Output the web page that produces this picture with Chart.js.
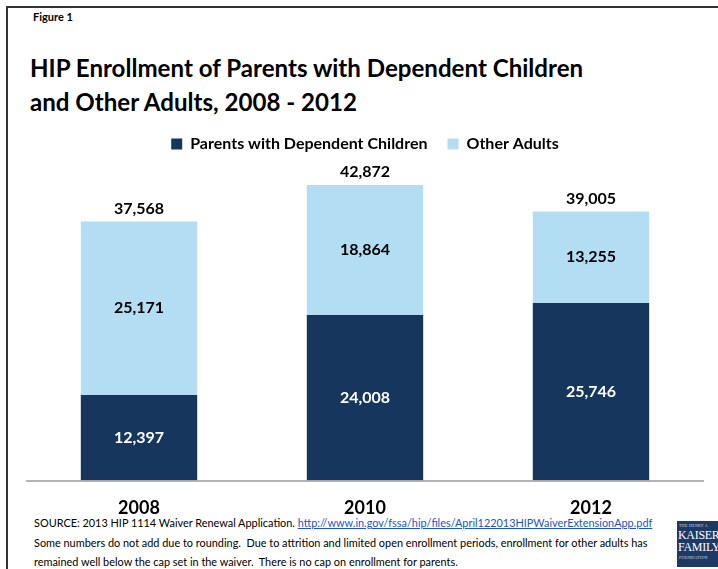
<!DOCTYPE html>
<html>
<head>
<meta charset="utf-8">
<script src="https://cdn.jsdelivr.net/npm/chart.js@4"></script>
<style>
  html, body { margin: 0; padding: 0; background: #fff; }
  body { width: 718px; height: 569px; position: relative; overflow: hidden; font-family: Lato, "Open Sans", sans-serif; }
  #frame { position: absolute; left: 6px; top: 6px; width: 760px; height: 620px; border: 2px solid #333; }
  #fig { position: absolute; left: 33px; top: 10px; font-size: 11px; font-weight: bold; color: #000; }
  #title { position: absolute; left: 30px; top: 51px; font-size: 24.1px; line-height: 34px; font-weight: bold; color: #000; }
  #chartWrap { position: absolute; left: 0; top: 116px; width: 718px; height: 416px; }
  #source { position: absolute; left: 34px; top: 513px; font-size: 10.9px; line-height: 19.5px; color: #000; }
  #source a { color: #1a56c9; text-decoration: underline; }
  #logo { position: absolute; left: 677px; top: 521px; width: 45px; height: 46px; background: #1d3a66; overflow: hidden;
          color: #fff; font-family: "Liberation Serif", "DejaVu Serif", serif; line-height: 1; }
  #logo .s { font-size: 4px; letter-spacing: 0.3px; padding: 3px 0 1px 2px; opacity: 0.8; white-space: nowrap; }
  #logo .b { font-size: 12px; padding-left: 1px; letter-spacing: -0.3px; }
</style>
</head>
<body>
<div id="frame"></div>
<div id="fig">Figure 1</div>
<div id="title">HIP Enrollment of Parents with Dependent Children<br>and Other Adults, 2008 - 2012</div>
<div id="source">SOURCE: 2013 HIP 1114 Waiver Renewal Application. <a href="#">http://www.in.gov/fssa/hip/files/April122013HIPWaiverExtensionApp.pdf</a><br>Some numbers do not add due to rounding.&nbsp; Due to attrition and limited open enrollment periods, enrollment for other adults has<br>remained well below the cap set in the waiver.&nbsp; There is no cap on enrollment for parents.</div>
<div id="logo"><div class="s">THE HENRY J.</div><div class="b">KAISER</div><div class="b">FAMILY</div><div class="s">FOUNDATION</div></div>
<div id="chartWrap"><canvas id="chart"></canvas></div>

<script>
const years = ["2008", "2010", "2012"];
const parents = [12397, 24008, 25746];
const otherAdults = [25171, 18864, 13255];
const totals = [37568, 42872, 39005];

const darkBlue = "#17365d";
const lightBlue = "#b2ddf3";

function fmt(n) {
  return n.toLocaleString("en-US");
}

// draws the numbers inside each segment and the totals above the bars
const barLabels = {
  id: "barLabels",
  afterDatasetsDraw(chart) {
    const ctx = chart.ctx;
    ctx.save();
    ctx.font = "bold 16px Lato, 'Open Sans', sans-serif";
    ctx.textAlign = "center";
    ctx.textBaseline = "middle";
    chart.data.datasets.forEach((ds, di) => {
      const meta = chart.getDatasetMeta(di);
      meta.data.forEach((bar, i) => {
        ctx.fillStyle = di === 0 ? "#fff" : "#000";
        ctx.fillText(fmt(ds.data[i]), bar.x, (bar.y + bar.base) / 2);
      });
    });
    const top = chart.getDatasetMeta(1);
    top.data.forEach((bar, i) => {
      ctx.fillStyle = "#000";
      ctx.fillText(fmt(totals[i]), bar.x, bar.y - 13);
    });
    // baseline under the bars
    const area = chart.chartArea;
    ctx.strokeStyle = "#9a9a9a";
    ctx.lineWidth = 1.5;
    ctx.beginPath();
    ctx.moveTo(area.left, area.bottom + 0.5);
    ctx.lineTo(area.right, area.bottom + 0.5);
    ctx.stroke();
    ctx.restore();
  }
};

new Chart(document.getElementById("chart"), {
  type: "bar",
  data: {
    labels: years,
    datasets: [
      {
        label: "Parents with Dependent Children",
        data: parents,
        backgroundColor: darkBlue,
        barPercentage: 0.515,
        categoryPercentage: 1,
      },
      {
        label: "Other Adults",
        data: otherAdults,
        backgroundColor: lightBlue,
        barPercentage: 0.515,
        categoryPercentage: 1,
      },
    ],
  },
  options: {
    responsive: true,
    maintainAspectRatio: false,
    animation: false,
    layout: { padding: { left: 26, right: 14, top: 0, bottom: 4 } },
    scales: {
      x: {
        stacked: true,
        grid: { display: false },
        border: { display: false },
        ticks: {
          color: "#000",
          padding: 9,
          font: { family: "Lato, 'Open Sans', sans-serif", size: 18, weight: "bold" },
        },
      },
      y: {
        stacked: true,
        display: false,
        min: 0,
        max: 46200,
      },
    },
    plugins: {
      legend: {
        position: "top",
        labels: {
          color: "#000",
          boxWidth: 11,
          boxHeight: 11,
          padding: 20,
          font: { family: "Lato, 'Open Sans', sans-serif", size: 16, weight: "bold" },
        },
      },
      tooltip: { enabled: false },
    },
  },
  plugins: [barLabels],
});
</script>
</body>
</html>
